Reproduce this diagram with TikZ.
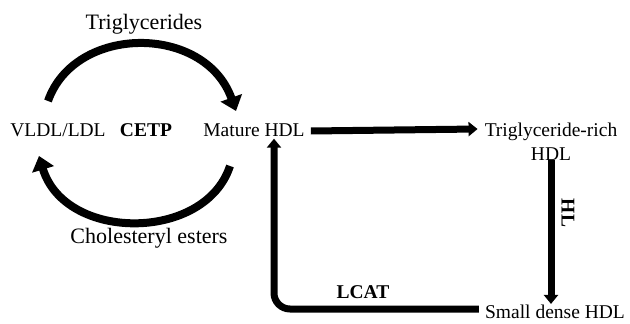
\documentclass[tikz,border=0pt]{standalone}
\usepackage{fontspec}
\setmainfont{Liberation Serif}
\usetikzlibrary{arrows.meta}
\begin{document}
\begin{tikzpicture}[x=1pt,y=-1pt,
  lbl/.style={inner sep=2pt, font=\fontsize{19.5}{24}\selectfont},
  biglbl/.style={inner sep=2pt, font=\fontsize{22}{26}\selectfont},
  enz/.style={inner sep=2pt, font=\fontsize{19.5}{24}\selectfont\bfseries},
  flow/.style={line width=7pt, -{Triangle[length=9pt,width=14pt]}},
  arc/.style={line width=8pt, -{Triangle[length=14pt,width=22pt]}}
]
\useasboundingbox (0,0) rectangle (630,324);
\node[lbl] (vldl) at (58,130) {VLDL/LDL};
\node[enz] (cetp) at (146,130) {CETP};
\node[lbl] (mature) at (254,130) {Mature HDL};
\node[biglbl] (tg) at (144,24) {Triglycerides};
\node[biglbl] (ce) at (149,238) {Cholesteryl esters};
\node[lbl, align=center] (tgr) at (551,142) {Triglyceride-rich\\HDL};
\node[lbl] (small) at (555,312) {Small dense HDL};
\node[enz, rotate=-90] (hl) at (568,213) {HL};
\node[enz] (lcat) at (363,292) {LCAT};

\coordinate (a1) at (48,101);
\coordinate (a2) at (236,111);
\coordinate (b1) at (230,166);
\coordinate (b2) at (39,156);
\draw[arc] (a1) .. controls (75,24) and (205,24) .. (a2);
\draw[arc] (b1) .. controls (205,242) and (65,242) .. (b2);

\draw[flow] (mature.east) ++(4,1) -- ([xshift=-5pt,yshift=1pt]tgr.west |- mature.east);
\draw[flow] ([yshift=3pt]tgr.south) -- ([yshift=-1pt]small.north -| tgr.south);
\draw[flow, rounded corners=16pt] ([xshift=-4pt,yshift=3pt]small.west) -| ([xshift=20pt]mature.south);
\end{tikzpicture}
\end{document}
